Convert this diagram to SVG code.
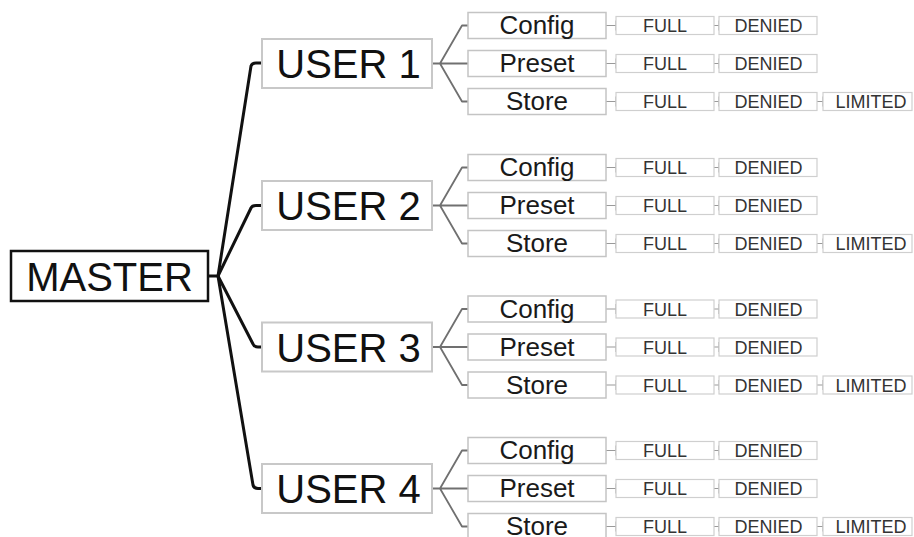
<svg xmlns="http://www.w3.org/2000/svg" width="914" height="537" viewBox="0 0 914 537">
<style>
text{font-family:"Liberation Sans",Arial,sans-serif;text-anchor:middle}
.m{fill:#fff;stroke:#111;stroke-width:2.5}
.u{fill:#fff;stroke:#c8c8c8;stroke-width:2}
.s{fill:#fff;stroke:#c4c4c4;stroke-width:1.5}
.v{fill:#fff;stroke:#cfcfcf;stroke-width:1.2}
.big{font-size:40px;fill:#111}
.sub{font-size:26px;fill:#1a1a1a}
.val{font-size:18px;fill:#333}
.bk{fill:none;stroke:#111;stroke-width:3;stroke-linejoin:round}
.gr{fill:none;stroke:#707070;stroke-width:1.8;stroke-linejoin:round}
.tk{fill:none;stroke:#9a9a9a;stroke-width:1.2}
</style>
<g id="connectors">
<path class="bk" d="M208 276H218L251 66Q252 63 256 63H262"/>
<path class="bk" d="M218 276L251 208Q252 205.5 256 205.5H262"/>
<path class="bk" d="M218 276L253 344Q254 347 258 347H262"/>
<path class="bk" d="M218 276L253 485Q254 488.5 258 488.5H262"/>
<g id="u1c">
<path class="gr" d="M432 63.5H468M440 63.5L462 25.5H468M440 63.5L462 101.5H468"/>
<path class="tk" d="M606 25.5H616M616 20.5V30.5M714 25.5H719M719 20.5V30.5M606 63.5H616M616 58.5V68.5M714 63.5H719M719 58.5V68.5M606 101.5H616M616 96.5V106.5M714 101.5H719M719 96.5V106.5M817 101.5H823M823 96.5V106.5"/>
</g>
<g id="u2c">
<path class="gr" d="M432 205.5H468M440 205.5L462 167.5H468M440 205.5L462 243.5H468"/>
<path class="tk" d="M606 167.5H616M616 162.5V172.5M714 167.5H719M719 162.5V172.5M606 205.5H616M616 200.5V210.5M714 205.5H719M719 200.5V210.5M606 243.5H616M616 238.5V248.5M714 243.5H719M719 238.5V248.5M817 243.5H823M823 238.5V248.5"/>
</g>
<g id="u3c">
<path class="gr" d="M432 347H468M440 347L462 309H468M440 347L462 385H468"/>
<path class="tk" d="M606 309H616M616 304V314M714 309H719M719 304V314M606 347H616M616 342V352M714 347H719M719 342V352M606 385H616M616 380V390M714 385H719M719 380V390M817 385H823M823 380V390"/>
</g>
<g id="u4c">
<path class="gr" d="M432 488.5H468M440 488.5L462 450.5H468M440 488.5L462 526.5H468"/>
<path class="tk" d="M606 450.5H616M616 445.5V455.5M714 450.5H719M719 445.5V455.5M606 488.5H616M616 483.5V493.5M714 488.5H719M719 483.5V493.5M606 526.5H616M616 521.5V531.5M714 526.5H719M719 521.5V531.5M817 526.5H823M823 521.5V531.5"/>
</g>
</g>
<g id="master"><rect class="m" x="11" y="251" width="197" height="50"/><text class="big" x="109.5" y="291">MASTER</text></g>

<g id="user1"><rect class="u" x="262" y="39" width="170" height="49"/><text class="big" x="348.5" y="78">USER 1</text></g>
<g id="user1-config"><rect class="s" x="468" y="12.5" width="138" height="26"/><text class="sub" x="537" y="34">Config</text></g>
<g id="user1-config-full"><rect class="v" x="616" y="16.5" width="98" height="18"/><text class="val" x="665" y="32">FULL</text></g>
<g id="user1-config-denied"><rect class="v" x="719" y="16.5" width="98" height="18"/><text class="val" x="768.5" y="32">DENIED</text></g>
<g id="user1-preset"><rect class="s" x="468" y="50.5" width="138" height="26"/><text class="sub" x="537" y="72">Preset</text></g>
<g id="user1-preset-full"><rect class="v" x="616" y="54.5" width="98" height="18"/><text class="val" x="665" y="70">FULL</text></g>
<g id="user1-preset-denied"><rect class="v" x="719" y="54.5" width="98" height="18"/><text class="val" x="768.5" y="70">DENIED</text></g>
<g id="user1-store"><rect class="s" x="468" y="88.5" width="138" height="26"/><text class="sub" x="537" y="110">Store</text></g>
<g id="user1-store-full"><rect class="v" x="616" y="92.5" width="98" height="18"/><text class="val" x="665" y="108">FULL</text></g>
<g id="user1-store-denied"><rect class="v" x="719" y="92.5" width="98" height="18"/><text class="val" x="768.5" y="108">DENIED</text></g>
<g id="user1-store-limited"><rect class="v" x="823" y="92.5" width="89" height="18"/><text class="val" x="871" y="108">LIMITED</text></g>

<g id="user2"><rect class="u" x="262" y="181" width="170" height="49"/><text class="big" x="348.5" y="220">USER 2</text></g>
<g id="user2-config"><rect class="s" x="468" y="154.5" width="138" height="26"/><text class="sub" x="537" y="176">Config</text></g>
<g id="user2-config-full"><rect class="v" x="616" y="158.5" width="98" height="18"/><text class="val" x="665" y="174">FULL</text></g>
<g id="user2-config-denied"><rect class="v" x="719" y="158.5" width="98" height="18"/><text class="val" x="768.5" y="174">DENIED</text></g>
<g id="user2-preset"><rect class="s" x="468" y="192.5" width="138" height="26"/><text class="sub" x="537" y="214">Preset</text></g>
<g id="user2-preset-full"><rect class="v" x="616" y="196.5" width="98" height="18"/><text class="val" x="665" y="212">FULL</text></g>
<g id="user2-preset-denied"><rect class="v" x="719" y="196.5" width="98" height="18"/><text class="val" x="768.5" y="212">DENIED</text></g>
<g id="user2-store"><rect class="s" x="468" y="230.5" width="138" height="26"/><text class="sub" x="537" y="252">Store</text></g>
<g id="user2-store-full"><rect class="v" x="616" y="234.5" width="98" height="18"/><text class="val" x="665" y="250">FULL</text></g>
<g id="user2-store-denied"><rect class="v" x="719" y="234.5" width="98" height="18"/><text class="val" x="768.5" y="250">DENIED</text></g>
<g id="user2-store-limited"><rect class="v" x="823" y="234.5" width="89" height="18"/><text class="val" x="871" y="250">LIMITED</text></g>

<g id="user3"><rect class="u" x="262" y="322.5" width="170" height="49"/><text class="big" x="348.5" y="361.5">USER 3</text></g>
<g id="user3-config"><rect class="s" x="468" y="296" width="138" height="26"/><text class="sub" x="537" y="317.5">Config</text></g>
<g id="user3-config-full"><rect class="v" x="616" y="300" width="98" height="18"/><text class="val" x="665" y="315.5">FULL</text></g>
<g id="user3-config-denied"><rect class="v" x="719" y="300" width="98" height="18"/><text class="val" x="768.5" y="315.5">DENIED</text></g>
<g id="user3-preset"><rect class="s" x="468" y="334" width="138" height="26"/><text class="sub" x="537" y="355.5">Preset</text></g>
<g id="user3-preset-full"><rect class="v" x="616" y="338" width="98" height="18"/><text class="val" x="665" y="353.5">FULL</text></g>
<g id="user3-preset-denied"><rect class="v" x="719" y="338" width="98" height="18"/><text class="val" x="768.5" y="353.5">DENIED</text></g>
<g id="user3-store"><rect class="s" x="468" y="372" width="138" height="26"/><text class="sub" x="537" y="393.5">Store</text></g>
<g id="user3-store-full"><rect class="v" x="616" y="376" width="98" height="18"/><text class="val" x="665" y="391.5">FULL</text></g>
<g id="user3-store-denied"><rect class="v" x="719" y="376" width="98" height="18"/><text class="val" x="768.5" y="391.5">DENIED</text></g>
<g id="user3-store-limited"><rect class="v" x="823" y="376" width="89" height="18"/><text class="val" x="871" y="391.5">LIMITED</text></g>

<g id="user4"><rect class="u" x="262" y="464" width="170" height="49"/><text class="big" x="348.5" y="503">USER 4</text></g>
<g id="user4-config"><rect class="s" x="468" y="437.5" width="138" height="26"/><text class="sub" x="537" y="459">Config</text></g>
<g id="user4-config-full"><rect class="v" x="616" y="441.5" width="98" height="18"/><text class="val" x="665" y="457">FULL</text></g>
<g id="user4-config-denied"><rect class="v" x="719" y="441.5" width="98" height="18"/><text class="val" x="768.5" y="457">DENIED</text></g>
<g id="user4-preset"><rect class="s" x="468" y="475.5" width="138" height="26"/><text class="sub" x="537" y="497">Preset</text></g>
<g id="user4-preset-full"><rect class="v" x="616" y="479.5" width="98" height="18"/><text class="val" x="665" y="495">FULL</text></g>
<g id="user4-preset-denied"><rect class="v" x="719" y="479.5" width="98" height="18"/><text class="val" x="768.5" y="495">DENIED</text></g>
<g id="user4-store"><rect class="s" x="468" y="513.5" width="138" height="26"/><text class="sub" x="537" y="535">Store</text></g>
<g id="user4-store-full"><rect class="v" x="616" y="517.5" width="98" height="18"/><text class="val" x="665" y="533">FULL</text></g>
<g id="user4-store-denied"><rect class="v" x="719" y="517.5" width="98" height="18"/><text class="val" x="768.5" y="533">DENIED</text></g>
<g id="user4-store-limited"><rect class="v" x="823" y="517.5" width="89" height="18"/><text class="val" x="871" y="533">LIMITED</text></g>
</svg>
